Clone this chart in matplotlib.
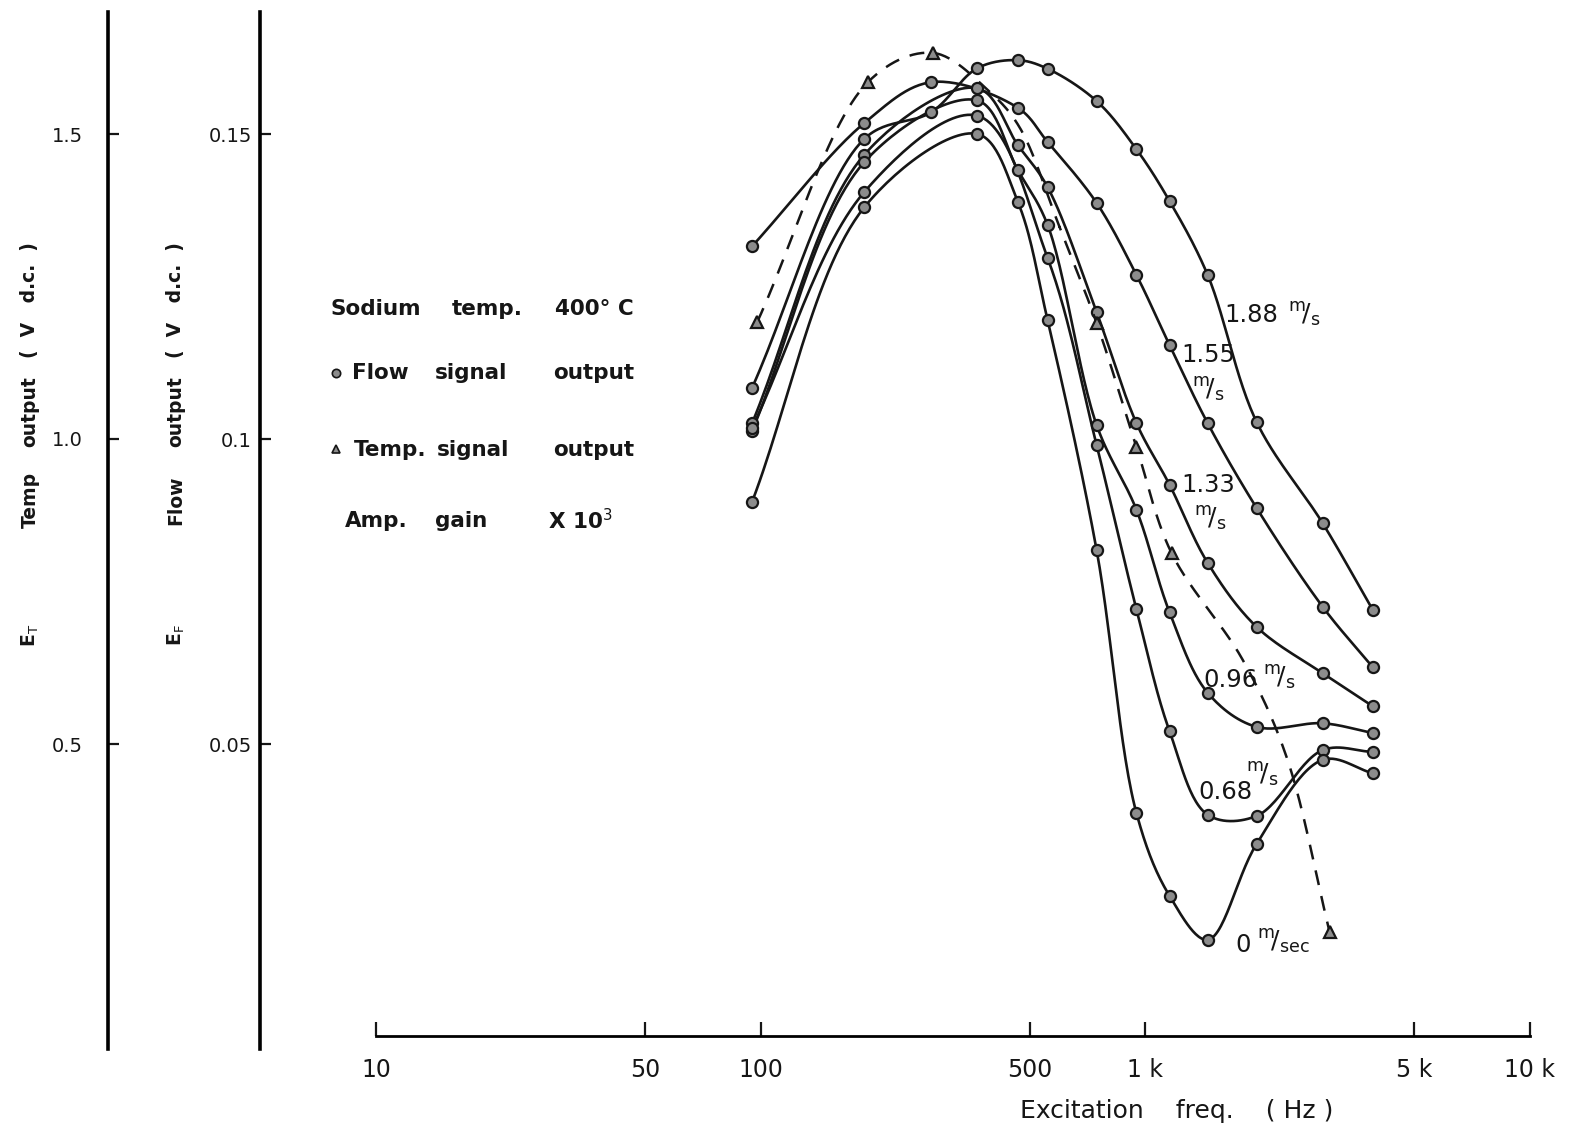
import numpy as np
import matplotlib.pyplot as plt
from matplotlib.ticker import NullLocator

W, H = 1577, 1131

# x tick marks of the frequency axis
freq_ticks = [10, 50, 100, 500, 1000, 5000, 10000]
freq_labels = ['10', '50', '100', '500', '1 k', '5 k', '10 k']
flow_ticks = [0.05, 0.1, 0.15]
flow_labels = ['0.05', '0.1', '0.15']
temp_ticks = [0.5, 1.0, 1.5]
temp_labels = ['0.5', '1.0', '1.5']

# flow signal output (V d.c.), per flow velocity
f_188 = [95, 186, 278, 366, 466, 557, 747, 948, 1156, 1452, 1946, 2890, 3900]
v_188 = [0.1084, 0.1492, 0.1536, 0.1608, 0.1621, 0.1607, 0.1554, 0.1475,
         0.1390, 0.1269, 0.1028, 0.0862, 0.0720]
f_155 = [95, 186, 278, 466, 557, 747, 948, 1156, 1452, 1946, 2890, 3900]
v_155 = [0.1316, 0.1518, 0.1585, 0.1543, 0.1487, 0.1387, 0.1269, 0.1154,
         0.1026, 0.0887, 0.0725, 0.0626]
f_133 = [95, 186, 366, 466, 557, 747, 948, 1156, 1452, 1946, 2890, 3900]
v_133 = [0.1026, 0.1466, 0.1575, 0.1482, 0.1413, 0.1208, 0.1026, 0.0925,
         0.0797, 0.0692, 0.0616, 0.0562]
f_096 = [95, 186, 366, 466, 557, 747, 948, 1156, 1452, 1946, 2890, 3900]
v_096 = [0.1013, 0.1454, 0.1555, 0.1441, 0.1351, 0.1023, 0.0884, 0.0716,
         0.0584, 0.0528, 0.0534, 0.0518]
f_068 = [95, 186, 366, 557, 747, 948, 1156, 1452, 1946, 2890, 3900]
v_068 = [0.1018, 0.1405, 0.1530, 0.1297, 0.0990, 0.0721, 0.0521, 0.0384,
         0.0382, 0.0490, 0.0487]
f_000 = [95, 186, 366, 466, 557, 747, 948, 1156, 1452, 1946, 2890, 3900]
v_000 = [0.0897, 0.1380, 0.1500, 0.1389, 0.1195, 0.0818, 0.0387, 0.0251,
         0.0179, 0.0336, 0.0474, 0.0452]

# temperature signal output (V d.c.), triangles
f_temp = [98, 190, 280, 747, 948, 1170, 3013]
v_temp = [1.192, 1.585, 1.633, 1.190, 0.987, 0.813, 0.192]
# extra points (no marker there)
f_temp_line = [394, 471, 598, 1791, 2328]
v_temp_line = [1.569, 1.511, 1.348, 0.638, 0.479]

flow_curves = [(f_188, v_188), (f_155, v_155), (f_133, v_133),
               (f_096, v_096), (f_068, v_068), (f_000, v_000)]


def px(x, y):
    return x / W, 1 - y / H


# centripetal catmull-rom through the points, done in log-x space
def smooth(f, v, ky, n=30):
    P = np.column_stack([np.log10(f) * 385.0, np.asarray(v) * ky])
    P = np.vstack([2 * P[0] - P[1], P, 2 * P[-1] - P[-2]])
    out = []
    for i in range(1, len(P) - 2):
        p0, p1, p2, p3 = P[i - 1], P[i], P[i + 1], P[i + 2]
        t0 = 0.0
        t1 = t0 + np.linalg.norm(p1 - p0) ** 0.5
        t2 = t1 + np.linalg.norm(p2 - p1) ** 0.5
        t3 = t2 + np.linalg.norm(p3 - p2) ** 0.5
        t = np.linspace(t1, t2, n)[:, None]
        A1 = (t1 - t) / (t1 - t0) * p0 + (t - t0) / (t1 - t0) * p1
        A2 = (t2 - t) / (t2 - t1) * p1 + (t - t1) / (t2 - t1) * p2
        A3 = (t3 - t) / (t3 - t2) * p2 + (t - t2) / (t3 - t2) * p3
        B1 = (t2 - t) / (t2 - t0) * A1 + (t - t0) / (t2 - t0) * A2
        B2 = (t3 - t) / (t3 - t1) * A2 + (t - t1) / (t3 - t1) * A3
        C = (t2 - t) / (t2 - t1) * B1 + (t - t1) / (t2 - t1) * B2
        out.append(C)
    C = np.vstack(out)
    return 10 ** (C[:, 0] / 385.0), C[:, 1] / ky


ink = '#161616'
grey = '#8c8c8c'

fig = plt.figure(figsize=(W / 100, H / 100), dpi=100)
ax = fig.add_axes([376 / W, 1 - 1049 / H, (1530 - 376) / W, (1049 - 12) / H])
ax.set_xscale('log')
ax.set_xlim(10, 10000)
ax.set_ylim(0, 0.17)

for fx, vy in flow_curves:
    xs, ys = smooth(fx, vy, 6100.0)
    ax.plot(xs, ys, color=ink, lw=1.9, solid_capstyle='round', zorder=3)
    ax.plot(fx, vy, 'o', ms=8, mfc=grey, mec=ink, mew=1.6, zorder=4)

ax.spines['top'].set_visible(False)
ax.spines['right'].set_visible(False)
ax.spines['left'].set_position(('axes', (260 - 376) / (1530 - 376)))
ax.spines['left'].set_linewidth(2.6)
ax.spines['bottom'].set_position(('data', 0.0021))
ax.spines['bottom'].set_linewidth(2.0)

ax.set_xticks(freq_ticks)
ax.set_xticklabels(freq_labels)
ax.xaxis.set_minor_locator(NullLocator())
ax.tick_params(axis='x', direction='in', length=10, width=1.6, pad=16,
               labelsize=17, colors=ink)
ax.set_yticks(flow_ticks)
ax.set_yticklabels(flow_labels)
ax.tick_params(axis='y', direction='in', length=8, width=1.6, pad=6,
               labelsize=14, colors=ink)

ax2 = ax.twinx()
ax2.set_ylim(0, 1.7)
for s in ['top', 'right', 'bottom']:
    ax2.spines[s].set_visible(False)
ax2.spines['left'].set_visible(True)
ax2.spines['left'].set_position(('axes', (108 - 376) / (1530 - 376)))
ax2.spines['left'].set_linewidth(2.6)
ax2.yaxis.set_ticks_position('left')
ax2.set_yticks(temp_ticks)
ax2.set_yticklabels(temp_labels)
ax2.tick_params(axis='y', direction='in', length=8, width=1.6, pad=18,
                labelsize=14, colors=ink)

tf = sorted(zip(f_temp + f_temp_line, v_temp + v_temp_line))
xs, ys = smooth([a for a, b in tf], [b for a, b in tf], 610.0)
ax2.plot(xs, ys, color=ink, lw=1.8, linestyle=(0, (6, 4.5)), zorder=3)
ax2.plot(f_temp, v_temp, '^', ms=8, mfc=grey, mec=ink, mew=1.6, zorder=4)

# vertical axis titles, word by word (hand lettered with wide gaps)
for xc, word1 in [(30, 'Temp'), (176, 'Flow')]:
    sub = 'T' if word1 == 'Temp' else 'F'
    for yc, word in [(635, r'E$_\mathrm{%s}$' % sub), (500, word1),
                     (412, 'output'), (300, '(  V   d.c.  )')]:
        fig.text(*px(xc, yc), word, rotation=90, ha='center', va='center',
                 fontsize=13.5, color=ink, weight='bold')

fig.text(*px(1177, 1111), 'Excitation    freq.    ( Hz )',
         ha='center', va='center', fontsize=18, color=ink)

# notes block
notes = [(330, 309, 'Sodium'), (452, 309, 'temp.'), (555, 309, '400° C'),
         (352, 373, 'Flow'), (435, 373, 'signal'), (553, 373, 'output'),
         (354, 450, 'Temp.'), (437, 450, 'signal'), (553, 450, 'output'),
         (345, 521, 'Amp.'), (435, 521, 'gain'), (548, 521, r'X 10$^3$')]
for x, y, word in notes:
    fig.text(*px(x, y), word, va='center', fontsize=15.5, color=ink,
             weight='bold')
fig.lines.append(plt.Line2D([336 / W], [1 - 373 / H], marker='o', ms=6,
                            mfc=grey, mec=ink, mew=1.2, transform=fig.transFigure))
fig.lines.append(plt.Line2D([336 / W], [1 - 449 / H], marker='^', ms=6,
                            mfc=grey, mec=ink, mew=1.2, transform=fig.transFigure))

# curve labels
ms_lab = r'$^{\mathrm{m}}\!/_{\mathrm{s}}$'
fig.text(*px(1224, 315), '1.88', va='center', fontsize=17.5, color=ink)
fig.text(*px(1288, 315), ms_lab, va='center', fontsize=18, color=ink)
fig.text(*px(1181, 355), '1.55', va='center', fontsize=17.5, color=ink)
fig.text(*px(1192, 390), ms_lab, va='center', fontsize=18, color=ink)
fig.text(*px(1181, 485), '1.33', va='center', fontsize=17.5, color=ink)
fig.text(*px(1194, 519), ms_lab, va='center', fontsize=18, color=ink)
fig.text(*px(1203, 680), '0.96', va='center', fontsize=17.5, color=ink)
fig.text(*px(1263, 678), ms_lab, va='center', fontsize=18, color=ink)
fig.text(*px(1198, 792), '0.68', va='center', fontsize=17.5, color=ink)
fig.text(*px(1246, 775), ms_lab, va='center', fontsize=18, color=ink)
fig.text(*px(1235, 945), '0', va='center', fontsize=17.5, color=ink)
fig.text(*px(1257, 942), r'$^{\mathrm{m}}\!/_{\mathrm{sec}}$', va='center',
         fontsize=18, color=ink)

fig.savefig('out.png', dpi=100)
